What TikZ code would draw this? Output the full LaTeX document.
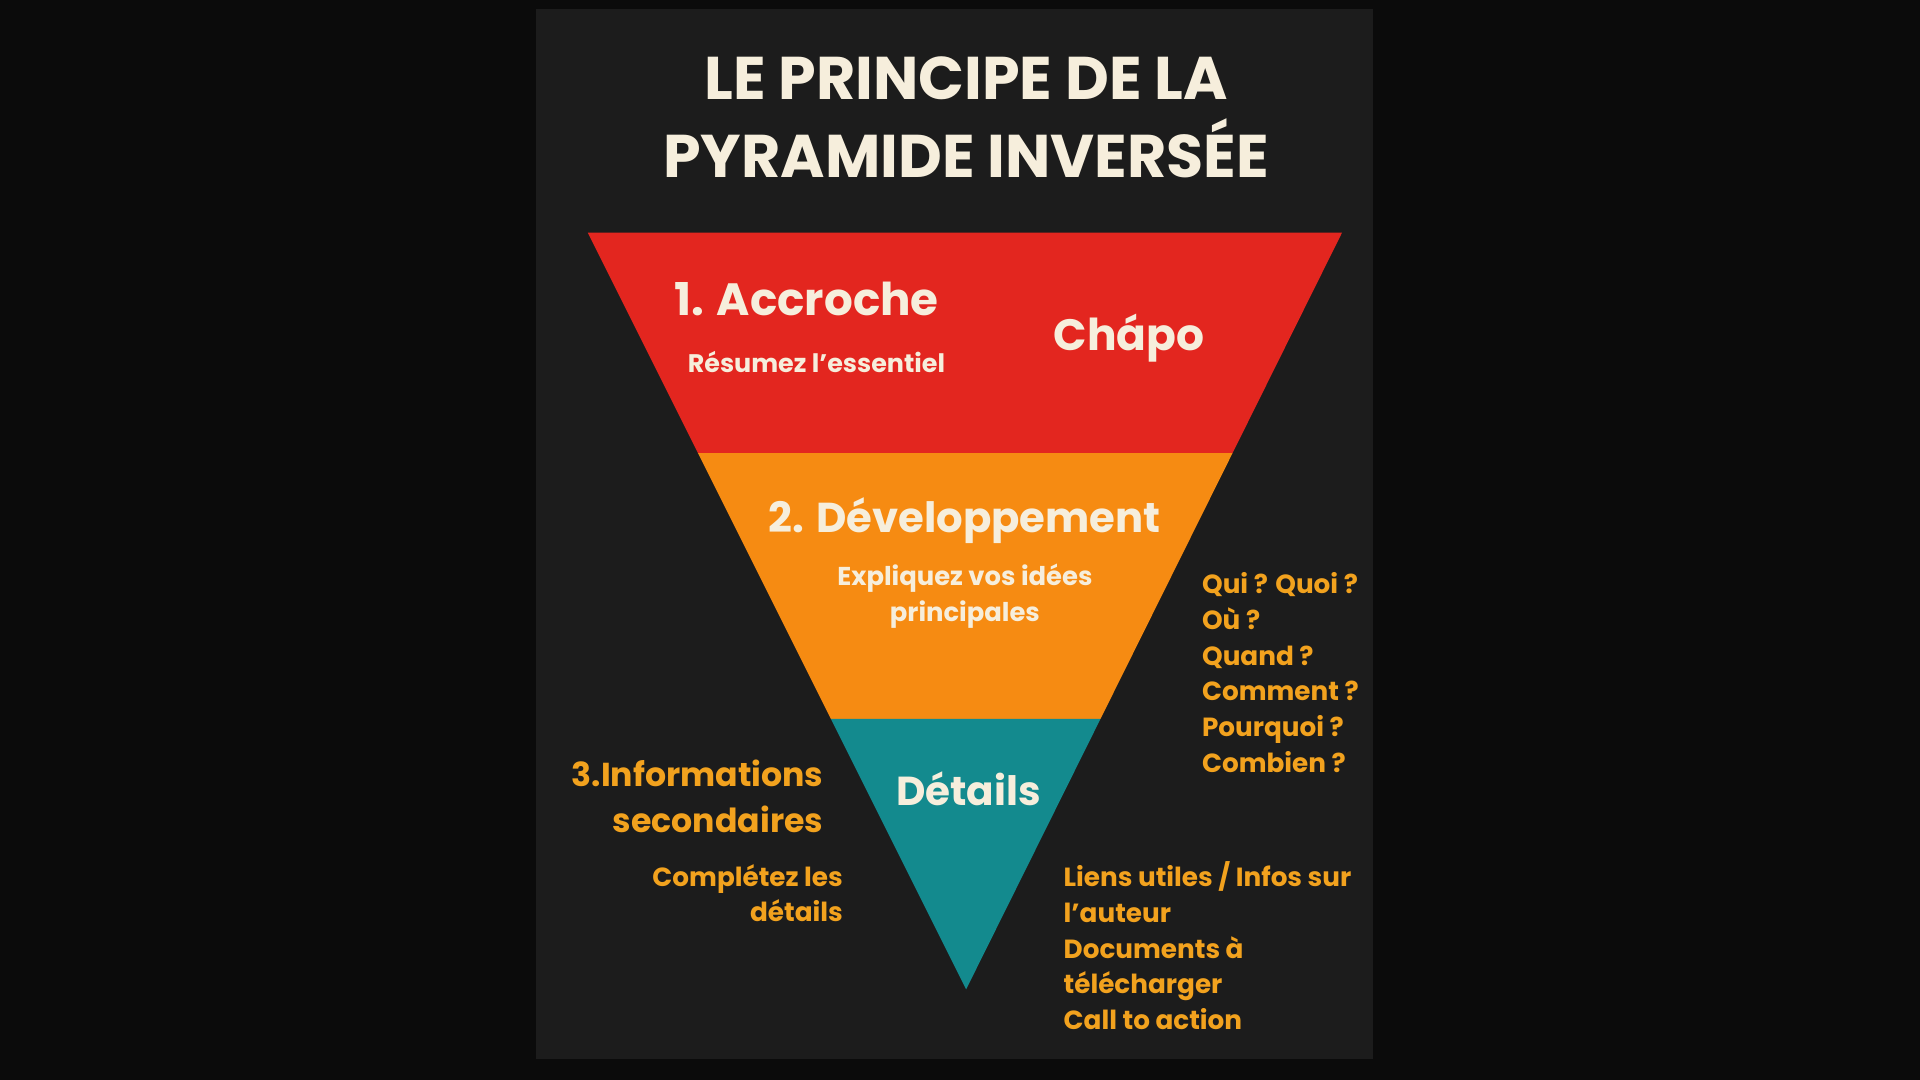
\documentclass[tikz,border=0pt]{standalone}
\usepackage{fontspec}
\setmainfont{Poppins}
\definecolor{outer}{HTML}{0B0B0B}
\definecolor{panel}{HTML}{1C1C1C}
\definecolor{rd}{HTML}{E3261F}
\definecolor{og}{HTML}{F68B12}
\definecolor{tl}{HTML}{138A8E}
\definecolor{cream}{HTML}{F6EEDC}
\definecolor{otx}{HTML}{F2A21E}
\begin{document}
\begin{tikzpicture}[x=0.01cm,y=-0.01cm,
  txt/.style={text=cream,font=\bfseries,align=center,inner sep=0},
  otxt/.style={text=otx,font=\bfseries\fontsize{6.1}{8.3}\selectfont,align=left,inner sep=0}]
\fill[outer] (0,0) rectangle (1568,882);
\useasboundingbox (0,0) rectangle (1568,882);
\fill[panel] (438,7) rectangle (1121,865);
\fill[rd] (480,190) -- (1096,190) -- (1006.6,370) -- (570,370) -- cycle;
\fill[og] (570,370) -- (1006.6,370) -- (898.8,587) -- (678.5,587) -- cycle;
\fill[tl] (678.5,587) -- (898.8,587) -- (789,808) -- cycle;
\node[txt,font=\bfseries\fontsize{14}{18}\selectfont] (title) at (789,96) {LE PRINCIPE DE LA\\PYRAMIDE INVERSÉE};
\node[txt,font=\bfseries\fontsize{10.5}{14}\selectfont,anchor=west] (acc) at (550,244) {1. Accroche};
\node[txt,font=\bfseries\fontsize{5.9}{8}\selectfont,anchor=west] (res) at (561,296) {Résumez l’essentiel};
\node[txt,font=\bfseries\fontsize{10.2}{14}\selectfont] (chapo) at (922,276) {Chápo};
\node[txt,font=\bfseries\fontsize{9.7}{14}\selectfont] (dev) at (788,425) {2. Développement};
\node[txt,font=\bfseries\fontsize{6}{8.3}\selectfont] (exp) at (788,487) {Expliquez vos idées\\principales};
\node[txt,font=\bfseries\fontsize{9.4}{12}\selectfont] (det) at (791,644) {Détails};
\node[otxt,anchor=north west] (q) at (981,467) {Qui ? Quoi ?\\Où ?\\Quand ?\\Comment ?\\Pourquoi ?\\Combien ?};
\node[otxt,anchor=north east,align=right,font=\bfseries\fontsize{7.7}{10.6}\selectfont] (info) at (673,620) {3.Informations\\secondaires};
\node[otxt,anchor=north east,align=right] (comp) at (689,705) {Complétez les\\détails};
\node[otxt,anchor=north west] (liens) at (868,703) {Liens utiles / Infos sur\\l’auteur\\Documents à\\télécharger\\Call to action};
\end{tikzpicture}
\end{document}
